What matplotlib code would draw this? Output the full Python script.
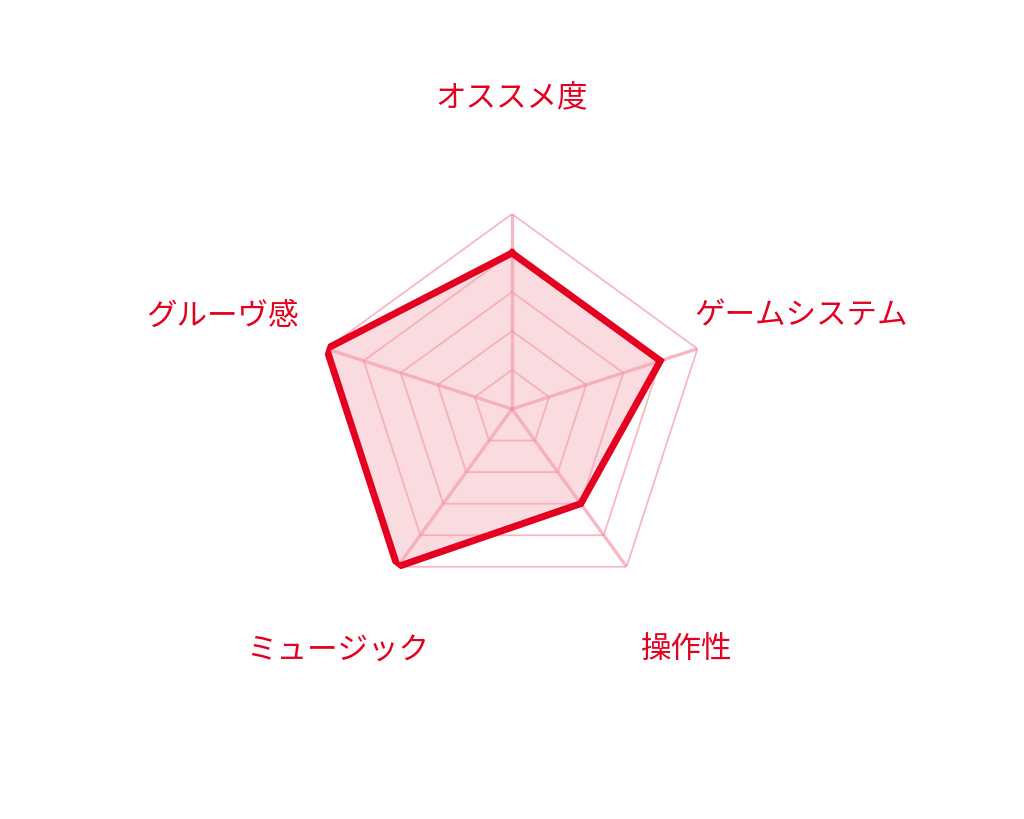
import numpy as np
import matplotlib
matplotlib.use('Agg')
import matplotlib.pyplot as plt

plt.rcParams['font.family'] = ['Noto Sans CJK JP', 'DejaVu Sans']

labels = ['オススメ度', 'ゲームシステム', '操作性', 'ミュージック', 'グルーヴ感']
values = [4, 4, 3, 5, 5]
levels = [1, 2, 3, 4, 5]
label_r = [8.0, 7.8, 7.6, 7.6, 7.8]

red = '#e60020'
pink = '#f28a9b'

n = len(labels)
angles = np.arange(n) * 2 * np.pi / n
closed = np.append(angles, angles[0])

fig = plt.figure(figsize=(10.24, 8.2), dpi=100)
ax = fig.add_axes([317 / 1024, 215 / 820, 390 / 1024, 390 / 820], projection='polar')
ax.set_theta_offset(np.pi / 2)
ax.set_theta_direction(-1)
ax.set_ylim(0, 5)
ax.axis('off')

# pentagon rings
for lv in levels:
    ax.plot(closed, [lv] * (n + 1), color=pink, lw=1.3, alpha=0.6, zorder=1)
# spokes
for a in angles:
    ax.plot([a, a], [0, 5], color=pink, lw=2.4, alpha=0.6, zorder=1)

vals = values + values[:1]
ax.fill(closed, vals, color='#f4a5b3', alpha=0.4, lw=0, zorder=2)
ax.plot(closed, vals, color=red, lw=5, solid_joinstyle='miter', zorder=3)

for a, lab, r in zip(angles, labels, label_r):
    ax.text(a, r, lab, color=red, fontsize=22, ha='center', va='center', clip_on=False)

fig.savefig('out.png', dpi=100)
